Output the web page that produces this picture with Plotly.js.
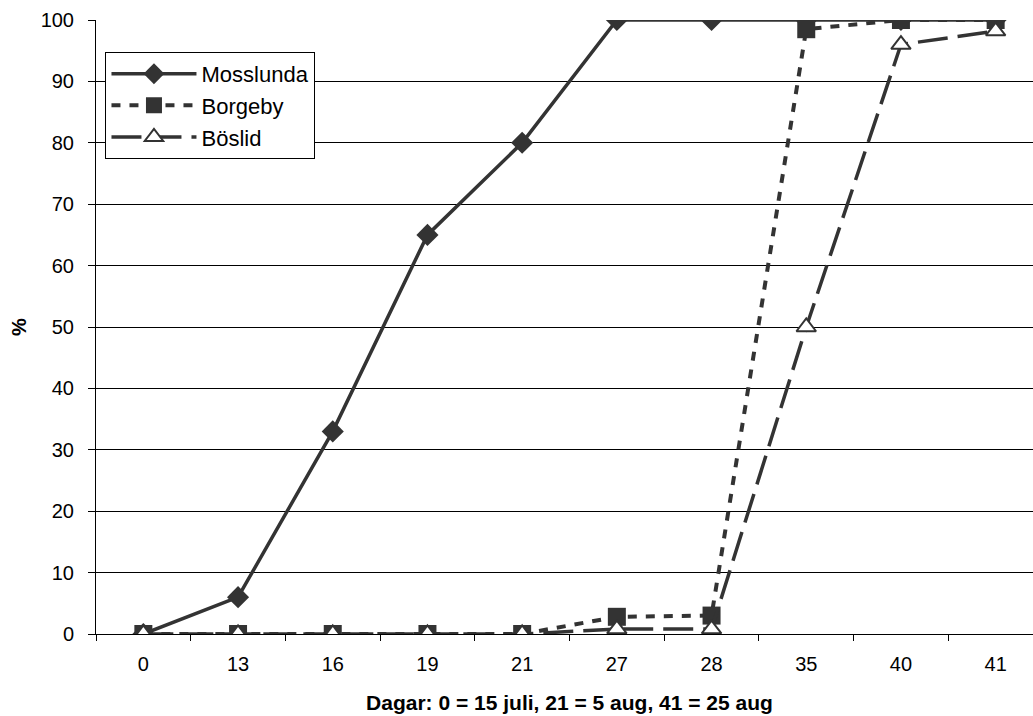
<!DOCTYPE html>
<html>
<head>
<meta charset="utf-8">
<script src="https://cdn.plot.ly/plotly-3.0.1.min.js"></script>
<style>html,body{margin:0;padding:0;overflow:hidden;background:#fff;}#chart{width:1043px;height:716px;}</style>
</head>
<body>
<div id="chart"></div>
<script>
var days = ["0","13","16","19","21","27","28","35","40","41"];
var mosslunda = [0, 6, 33, 65, 80, 100, 100, 100, 100, 100];
var borgeby = [0, 0, 0, 0, 0, 2.8, 3, 98.5, 100, 100];
var boslid = [0, 0, 0, 0, 0, 0.8, 0.8, 50, 96, 98.2];
var yTicks = [0,10,20,30,40,50,60,70,80,90,100];

var col = "#333333";
var traces = [
  {x: days, y: mosslunda, name: "Mosslunda", type: "scatter", mode: "lines+markers",
   line: {color: col, width: 3.5},
   marker: {symbol: "diamond", size: 17, color: col}},
  {x: days, y: borgeby, name: "Borgeby", type: "scatter", mode: "lines+markers",
   line: {color: col, width: 4, dash: "9px,9px"},
   marker: {symbol: "square", size: 18, color: col}},
  {x: days, y: boslid, name: "Böslid", type: "scatter", mode: "lines+markers",
   line: {color: col, width: 3.5, dash: "30px,10px"},
   marker: {symbol: "triangle-up", size: 17, color: "#ffffff", line: {color: col, width: 2}}}
];

var layout = {
  width: 1043, height: 716,
  margin: {l: 96, r: 0, t: 20, b: 82},
  paper_bgcolor: "#ffffff", plot_bgcolor: "#ffffff",
  font: {family: "Liberation Sans, Arial, sans-serif", size: 19, color: "#000"},
  showlegend: true,
  legend: {x: 0.01, y: 0.948, xanchor: "left", yanchor: "top",
    bordercolor: "#000", borderwidth: 1, bgcolor: "#fff",
    font: {size: 22}, itemwidth: 85, tracegroupgap: 0},
  xaxis: {type: "category", categoryorder: "array", categoryarray: days, range: [-0.5, 9.5],
    tickson: "boundaries", ticks: "outside", ticklen: 6, tickcolor: "#000",
    showline: true, linecolor: "#000", linewidth: 1, showgrid: false, zeroline: false,
    tickfont: {size: 20}, ticklabelstandoff: 12,
    title: {text: "<b>Dagar: 0 = 15 juli, 21 = 5 aug, 41 = 25 aug</b>", font: {size: 21}, standoff: 21}},
  yaxis: {range: [0, 100], tickvals: yTicks, ticks: "outside", ticklen: 7, tickcolor: "#000",
    showline: true, linecolor: "#000", linewidth: 1, showgrid: true, gridcolor: "#000", gridwidth: 1,
    zeroline: false, tickfont: {size: 20}, ticklabelstandoff: 10,
    title: {text: "<b>%</b>", font: {size: 20}, standoff: 8}}
};
Plotly.newPlot("chart", traces, layout, {displayModeBar: false, staticPlot: true});
</script>
</body>
</html>
